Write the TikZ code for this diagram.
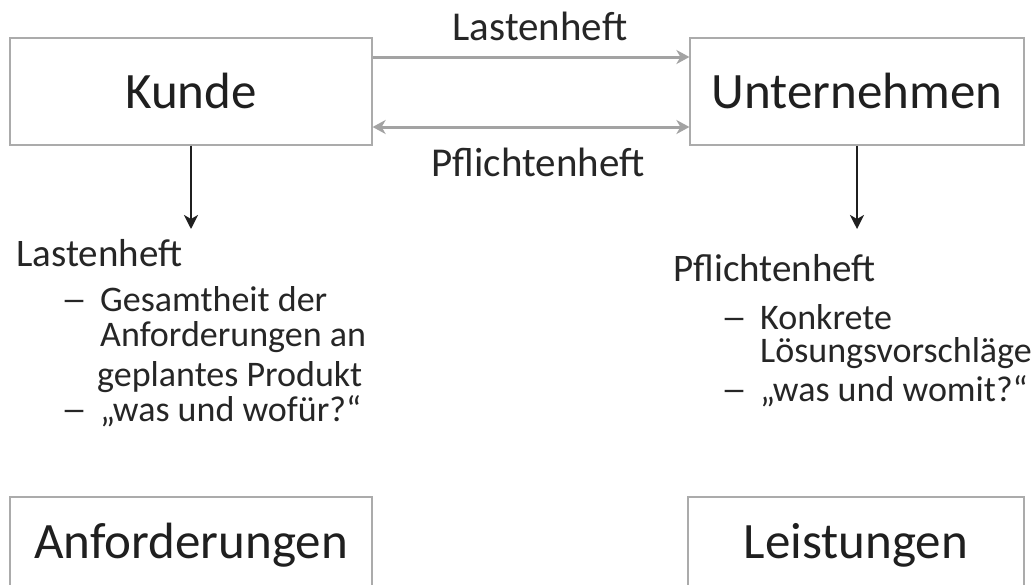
\documentclass[tikz,border=0pt]{standalone}
\usepackage{fontspec}
\setmainfont{Carlito}
\usetikzlibrary{arrows.meta}
% en dash hanging to the left of a list line
\newcommand\bul{\llap{\scalebox{1.45}[1]{–}\hspace{13pt}}}
\begin{document}
\begin{tikzpicture}[x=1pt,y=-1pt,
  box/.style={draw=black!33, line width=1.2pt, fill=white, inner sep=0pt,
    text height=40pt, text depth=7pt, font=\fontsize{51}{60}\selectfont, text=black!88},
  flow/.style={draw=black!36, line width=3pt,
    -{Stealth[length=13pt,width=14pt,inset=4pt]}},
  both/.style={flow, {Stealth[length=13pt,width=14pt,inset=4pt]}-{Stealth[length=13pt,width=14pt,inset=4pt]}},
  down/.style={draw=black!88, line width=2.8pt,
    -{Stealth[length=14pt,width=14pt,inset=4pt]}},
  midlabel/.style={font=\fontsize{41}{48}\selectfont, text=black!85, inner sep=0pt, anchor=base},
  head/.style={font=\fontsize{39}{46}\selectfont, text=black!85, inner sep=0pt, anchor=base west},
  item/.style={font=\fontsize{36}{43}\selectfont, text=black!85, inner sep=0pt, anchor=base west},
]
\useasboundingbox (0,0) rectangle (1032,584);
\fill[white] (0,0) rectangle (1032,584);
\clip (0,0) rectangle (1032,584);

% parties and results
\node[box, minimum width=362pt, minimum height=107pt] (kunde) at (191,91.5) {Kunde};
\node[box, minimum width=334pt, minimum height=107pt] (firma) at (857,91.5) {Unternehmen};
\node[box, minimum width=362pt, minimum height=89pt] (anf) at (191,541.5) {Anforderungen};
\node[box, minimum width=336pt, minimum height=89pt] (leist) at (856,541.5) {Leistungen};

% exchange of documents
\draw[flow] ([yshift=34.5pt]kunde.east) -- ([yshift=34.5pt]firma.west);
\draw[both] ([yshift=-35.5pt]kunde.east) -- ([yshift=-35.5pt]firma.west);
\node[midlabel] (lastTop) at (540,40) {Lastenheft};
\node[midlabel] (pflMid) at (538,176) {Pflichtenheft};

% downward arrows
\coordinate (kEnd) at (191,229);
\coordinate (uEnd) at (857,229);
\draw[down] (kunde.south) -- (kEnd);
\draw[down] (firma.south) -- (uEnd);

% Lastenheft list
\node[head] (lh) at (16,266) {Lastenheft};
\node[item] (l1) at (100,311) {\bul Gesamtheit der};
\node[item] (l2) at (100,346) {Anforderungen an};
\node[item] (l3) at (97,386) {geplantes Produkt};
\node[item] (l4) at (100,421) {\bul „was und wofür?“};

% Pflichtenheft list
\node[head] (ph) at (673,281) {Pflichtenheft};
\node[item] (r1) at (760,329) {\bul Konkrete};
\node[item] (r2) at (760,362) {Lösungsvorschläge};
\node[item] (r3) at (760,401) {\bul „was und womit?“};
\end{tikzpicture}
\end{document}
